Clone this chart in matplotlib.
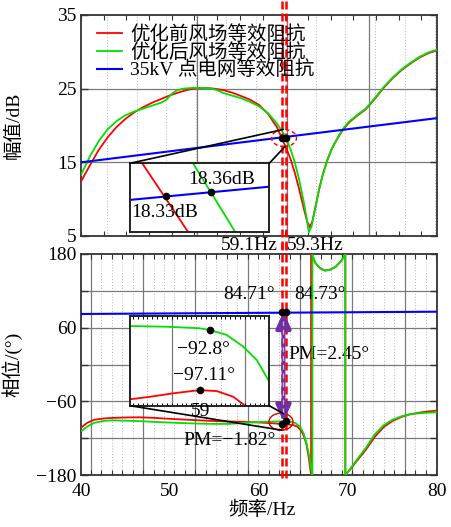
import numpy as np
import matplotlib

matplotlib.use("Agg")
import matplotlib.pyplot as plt
from matplotlib.patches import Ellipse, ConnectionPatch
from matplotlib.ticker import FixedLocator, FixedFormatter, MultipleLocator, NullLocator

plt.rcParams["font.family"] = ["Liberation Serif", "Noto Sans CJK SC"]
plt.rcParams["font.size"] = 14

W, H = 451, 527
RED = "#ff0000"
GREEN = "#00e000"
BLUE = "#0000ff"
PURPLE = "#7030a0"

legend_labels = ["优化前风场等效阻抗", "优化后风场等效阻抗", "35kV 点电网等效阻抗"]

# ---- magnitude (dB) ----
mag_f_before = [40, 41, 42, 43, 44, 45, 46, 47, 48, 49, 50, 51, 52, 53, 54, 55, 56, 57, 58, 59, 60, 61, 62,
                62.55, 63, 63.5, 64, 64.5, 65, 65.4, 65.7, 66.0, 66.4, 66.8, 67.2, 67.7, 68.2, 68.7, 69.2, 69.7, 70.2,
                71, 72, 73, 74, 75, 76, 77, 78, 79, 80]
mag_before = [12.4, 14.6, 16.7, 18.4, 19.8, 20.9, 21.8, 22.5, 23.1, 23.6, 24.1, 24.5, 24.85, 25.05, 25.1, 25.0,
              24.8, 24.45, 24.0, 23.5, 22.8, 21.6, 19.8,
              18.33, 17.1, 15.6, 13.7, 11.4, 8.9, 7.0, 6.2, 7.0, 9.3, 11.6, 13.5, 15.4, 16.9, 18.0, 19.0, 19.8, 20.5,
              21.3, 22.2, 23.6, 25.1, 26.4, 27.5, 28.4, 29.2, 29.8, 30.2]

mag_f_after = [40, 41, 42, 43, 44, 45, 46, 47, 48, 49,
               49.6, 50.2, 50.8, 51.5, 52.5, 53.5, 54.5, 55.3, 56, 57, 58, 59, 60, 61, 62, 62.5, 63.03, 63.5, 64,
               64.5, 65, 65.3, 65.6, 65.9, 66.3, 66.7, 67.1, 67.6, 68.1, 68.6, 69.1, 69.6, 70.1,
               71, 72, 73, 74, 75, 76, 77, 78, 79, 80]
mag_after = [13.3, 15.8, 17.9, 19.5, 20.6, 21.4, 21.9, 22.3, 22.7, 23.1,
             23.5, 24.3, 24.8, 25.0, 25.1, 25.1, 25.05, 24.8, 24.4, 24.05, 23.7, 23.2, 22.6, 21.7, 20.3, 19.4, 18.36,
             16.9, 15.1, 12.7, 9.8, 7.8, 5.5, 6.3, 8.6, 11.0, 13.0, 15.0, 16.6, 17.8, 18.9, 19.8, 20.5,
             21.4, 22.3, 23.7, 25.2, 26.5, 27.6, 28.5, 29.3, 29.9, 30.3]

grid_f = [40, 80]
grid_mag = [15.0, 21.0]
grid_phase = [82.3, 86.0]

# ---- phase (deg) ----
phase_f_before = [40, 40.7, 41.5, 42.5, 43.5, 45, 46.5, 48, 50, 52, 54, 56, 58, 60, 61.5,
                  62.55, 63.2, 63.8, 64.3, 64.7, 65.0, 65.3, 65.55, 65.75, 65.85, 65.85,
                  66.3, 66.85, 67.4, 68.0, 68.6, 69.2, 69.6, 69.7, 69.7,
                  70.3, 71, 72, 73, 74, 75, 76, 77, 78, 79, 80]
phase_before = [-103, -95, -90, -88, -87, -86.3, -86, -86.8, -88.5, -90, -91.5, -92.6, -93.3, -94.5, -95.6,
                -97.11, -97.5, -98.5, -101, -107, -115, -128, -148, -168, -180, 180,
                166, 157, 153, 154.5, 159, 168, 177, 180, -180,
                -170, -157, -139, -118, -102, -92, -85.5, -81, -78.5, -76.5, -75]

phase_f_after = [40, 40.7, 41.5, 42.5, 43.5, 45, 47, 49, 51, 53, 55, 56.5, 58, 59.5, 61, 62,
                 63.03, 63.6, 64.1, 64.6, 65.0, 65.3, 65.6, 65.85, 66.0, 66.0,
                 66.3, 66.85, 67.4, 68.0, 68.6, 69.2, 69.6, 69.7, 69.7,
                 70.2, 71, 72, 73, 74, 75, 76, 77, 78, 79, 80]
phase_after = [-109, -101, -95, -92, -91, -91.5, -92.5, -94, -95.2, -96.2, -96.8, -96.8, -95.5, -94, -93.2, -92.8,
               -92.8, -93.5, -95.5, -101, -112, -126, -146, -168, -180, 180,
               166, 157, 153, 154.5, 159, 168, 177, 180, -180,
               -171, -155, -136, -114, -99, -90, -84.5, -81, -79.5, -78.5, -78]

# crossing points (before, after)
cross_f = [62.55, 63.03]
cross_mag = [18.33, 18.36]
cross_grid_phase = [84.71, 84.73]
cross_wf_phase = [-97.11, -92.8]
cross_f_labels = ["59.1Hz", "59.3Hz"]
pm_labels = ["PM=\u22121.82°", "PM=2.45°"]

# ---- zoomed insets ----
zoom_mag_xlim = [62.17, 63.65]
zoom_mag_ylim = [17.73, 18.88]
zoom_mag_f_blue = [62.17, 63.65]
zoom_mag_blue = [18.27, 18.49]
zoom_mag_f_before = [62.30, 62.79]
zoom_mag_before = [18.88, 17.73]
zoom_mag_f_after = [62.84, 63.29]
zoom_mag_after = [18.88, 17.73]
zoom_mag_dots = [18.33, 18.40]

zoom_ph_xlim = [58.5, 59.5]
zoom_ph_ylim = [-98.23, -91.79]
zoom_ph_f_after = [58.5, 58.763, 59.0, 59.074, 59.194, 59.313, 59.41, 59.5]
zoom_ph_after = [-92.51, -92.56, -92.67, -92.80, -93.15, -93.99, -94.95, -96.51]
zoom_ph_f_before = [58.5, 58.644, 58.811, 59.0, 59.123, 59.242, 59.326]
zoom_ph_before = [-97.77, -97.59, -97.34, -97.11, -97.18, -97.59, -98.23]
zoom_ph_dot_f = [59.0, 59.074]

freq_ticks = [40, 50, 60, 70, 80]
mag_ticks = [5, 15, 25, 35]
phase_ticks = [-180, -120, -60, 0, 60, 120, 180]
phase_tick_labels = ["\u2212180", "", "\u221260", "", "60", "", "180"]


def box(x0, y0, x1, y1):
    return [x0 / W, 1 - y1 / H, (x1 - x0) / W, (y1 - y0) / H]


def draw_grid(ax, xs_major, xs_minor, ys_major):
    for x in xs_minor:
        ax.axvline(x, color="#b4b4b4", lw=0.7, ls=(0, (1, 2)), zorder=0)
    for x in xs_major:
        ax.axvline(x, color="#7a7a7a", lw=0.9, zorder=0.5)
    for y in ys_major:
        ax.axhline(y, color="#7a7a7a", lw=0.9, zorder=0.5)


fig = plt.figure(figsize=(W / 100, H / 100), dpi=100)
ax1 = fig.add_axes(box(81, 15, 437, 236))
ax2 = fig.add_axes(box(81, 254, 437, 475))

for ax in (ax1, ax2):
    ax.set_xlim(40, 80)
    for s in ax.spines.values():
        s.set_linewidth(1.3)
        s.set_color("#333333")
    ax.tick_params(which="both", direction="in", top=True, right=True, color="#333333")
    ax.tick_params(which="major", length=5, width=1, pad=3)
    ax.tick_params(which="minor", length=3.5, width=0.8)

# ---------- magnitude panel ----------
ax1.set_ylim(5, 35)
ax1.yaxis.set_major_locator(FixedLocator(mag_ticks))
ax1.xaxis.set_major_locator(NullLocator())
ax1.xaxis.set_minor_locator(MultipleLocator(2.55, offset=40))
draw_grid(ax1, [53.0, 63.2, 72.4], np.arange(42.9, 80, 3.35), [15, 25])

l_before, = ax1.plot(mag_f_before, mag_before, color=RED, lw=1.3, zorder=3)
l_after, = ax1.plot(mag_f_after, mag_after, color=GREEN, lw=1.3, zorder=3.1)
l_grid, = ax1.plot(grid_f, grid_mag, color=BLUE, lw=1.5, zorder=3.2)
ax1.plot(cross_f, cross_mag, "o", color="black", ms=4.5, zorder=6)
ax1.add_patch(Ellipse((62.81, 18.30), 2.8, 2.3, fill=False, ec=RED, lw=1.0,
                      ls=(0, (3, 2)), zorder=6))

ax1.set_ylabel("幅值/dB")
ax1.yaxis.set_label_coords(-0.165, 0.5)
ax1.legend([l_before, l_after, l_grid], legend_labels, loc="upper left",
           bbox_to_anchor=(0.045, 0.955), frameon=False, borderpad=0, borderaxespad=0,
           handlelength=1.3, handletextpad=0.4, labelspacing=-0.05, fontsize=14)

# ---------- phase panel ----------
ax2.set_ylim(-180, 180)
ax2.yaxis.set_major_locator(FixedLocator(phase_ticks))
ax2.yaxis.set_major_formatter(FixedFormatter(phase_tick_labels))
ax2.xaxis.set_major_locator(FixedLocator(freq_ticks))
ax2.xaxis.set_minor_locator(MultipleLocator(1.176, offset=39.92))
ax2.tick_params(axis="x", which="major", length=0, pad=6)
draw_grid(ax2, np.arange(41.1, 80, 5.88), np.arange(39.92 + 1.176, 80, 1.176), phase_ticks[1:-1])

ax2.plot(phase_f_before, phase_before, color=RED, lw=1.3, zorder=3)
ax2.plot(phase_f_after, phase_after, color=GREEN, lw=1.3, zorder=3.1)
ax2.plot(grid_f, grid_phase, color=BLUE, lw=1.5, zorder=3.2)
ax2.plot(cross_f, cross_grid_phase, "o", color="black", ms=4.5, zorder=8)
ax2.plot(cross_f, cross_wf_phase, "o", color="black", ms=4.5, zorder=8)
ax2.add_patch(Ellipse((62.47, -93.2), 2.7, 27.7, fill=False, ec="#d40000", lw=1.0, zorder=6))

ax2.set_xlabel("频率/Hz")
ax2.xaxis.set_label_coords(0.508, -0.115)
ax2.set_ylabel("相位/(°)")
ax2.yaxis.set_label_coords(-0.165, 0.5)

# red dashed marker lines through both panels
for f in cross_f:
    ax1.axvline(f, ymin=-0.06, ymax=1.07, color=RED, lw=1.8, ls=(0, (3.2, 1.6)),
                clip_on=False, zorder=4)
    ax2.axvline(f, ymin=-0.014, ymax=1.05, color=RED, lw=1.8, ls=(0, (3.2, 1.6)),
                clip_on=False, zorder=4)

# phase margin arrow
arrow_f = 62.75
ax2.annotate("", xy=(arrow_f, cross_wf_phase[1] - 0.5), xytext=(arrow_f, cross_grid_phase[1] + 1.5),
             arrowprops=dict(arrowstyle="<|-|>,head_length=1.0,head_width=0.45", color=PURPLE,
                             lw=2.8, mutation_scale=10, shrinkA=0, shrinkB=0), zorder=7)
ax2.plot([arrow_f, arrow_f], [cross_wf_phase[1] + 14, cross_grid_phase[1] - 14], color="#c9b8e8",
         lw=0.9, ls=(0, (4, 3)), zorder=7.5)

# text labels around crossings
xt = ax2.get_xaxis_transform()
ax2.annotate(cross_f_labels[0], xy=(cross_f[0], 1), xycoords=xt, xytext=(-2.7, 5.8),
             textcoords="offset points", ha="right", va="center", annotation_clip=False)
ax2.annotate(cross_f_labels[1], xy=(cross_f[1], 1), xycoords=xt, xytext=(0.7, 5.8),
             textcoords="offset points", ha="left", va="center", annotation_clip=False)
ax2.annotate(f"{cross_grid_phase[0]:.2f}°", xy=(cross_f[0], cross_grid_phase[0]), xytext=(-4.8, 13.1),
             textcoords="offset points", ha="right", va="center")
ax2.annotate(f"{cross_grid_phase[1]:.2f}°", xy=(cross_f[1], cross_grid_phase[1]), xytext=(5.8, 13.1),
             textcoords="offset points", ha="left", va="center")
ax2.annotate(pm_labels[1], xy=(cross_f[1], cross_grid_phase[1]), xytext=(1.4, -30.6),
             textcoords="offset points", ha="left", va="center")
ax2.annotate(pm_labels[0], xy=(cross_f[0], cross_wf_phase[0]), xytext=(-4.1, -11.5),
             textcoords="offset points", ha="right", va="center")

# ---------- magnitude inset ----------
axz1 = fig.add_axes(box(130, 163.3, 269.3, 232.3))
axz1.set_xlim(zoom_mag_xlim)
axz1.set_ylim(zoom_mag_ylim)
axz1.set_xticks([])
axz1.set_yticks([])
for s in axz1.spines.values():
    s.set_linewidth(1.4)
    s.set_color("#222222")
axz1.plot(zoom_mag_f_blue, zoom_mag_blue, color=BLUE, lw=1.5)
axz1.plot(zoom_mag_f_before, zoom_mag_before, color=RED, lw=1.3)
axz1.plot(zoom_mag_f_after, zoom_mag_after, color=GREEN, lw=1.3)
axz1.plot(cross_f, zoom_mag_dots, "o", color="black", ms=4.5, zorder=5)
axz1.text(0.416, 0.758, f"{cross_mag[1]:.2f}dB", transform=axz1.transAxes, ha="left", va="center")
axz1.text(0.007, 0.294, f"{cross_mag[0]:.2f}dB", transform=axz1.transAxes, ha="left", va="center")

for xa, xb in [((0, 1), (62.73, 19.46)), ((1, 1), (62.92, 17.15))]:
    fig.add_artist(ConnectionPatch(xyA=xa, coordsA=axz1.transAxes, xyB=xb, coordsB=ax1.transData,
                                   color="black", lw=1.2, zorder=5))

# ---------- phase inset ----------
axz2 = fig.add_axes(box(130, 316, 269.3, 405.7))
axz2.set_xlim(zoom_ph_xlim)
axz2.set_ylim(zoom_ph_ylim)
axz2.set_yticks([])
axz2.xaxis.set_major_locator(NullLocator())
axz2.xaxis.set_minor_locator(MultipleLocator(0.035))
axz2.tick_params(which="minor", direction="in", top=True, bottom=True, length=2.5, width=0.7)
for s in axz2.spines.values():
    s.set_linewidth(1.4)
    s.set_color("#222222")
for x in np.arange(58.625, 59.5, 0.175):
    axz2.axvline(x, color="#b4b4b4", lw=0.7, ls=(0, (1, 2)), zorder=0)
for x in [58.8, 59.326]:
    axz2.axvline(x, color="#7a7a7a", lw=0.9, zorder=0.5)
axz2.plot(zoom_ph_f_after, zoom_ph_after, color=GREEN, lw=1.3)
axz2.plot(zoom_ph_f_before, zoom_ph_before, color=RED, lw=1.3)
axz2.plot(zoom_ph_dot_f, [cross_wf_phase[0], cross_wf_phase[1]], "o", color="black", ms=4.5, zorder=5)
axz2.text(0.53, 0.632, f"\u2212{abs(cross_wf_phase[1]):.1f}°", transform=axz2.transAxes,
          ha="center", va="center")
axz2.text(0.528, 0.342, f"\u2212{abs(cross_wf_phase[0]):.2f}°", transform=axz2.transAxes,
          ha="center", va="center")
axz2.text(0.51, -0.07, "59", transform=axz2.transAxes, ha="center", va="center")

for xa, xb in [((0, 0), (62.55, -107.0)), ((1, 0), (62.73, -80.0))]:
    fig.add_artist(ConnectionPatch(xyA=xa, coordsA=axz2.transAxes, xyB=xb, coordsB=ax2.transData,
                                   color="black", lw=1.2, zorder=5))

fig.savefig("out.png", dpi=100)
